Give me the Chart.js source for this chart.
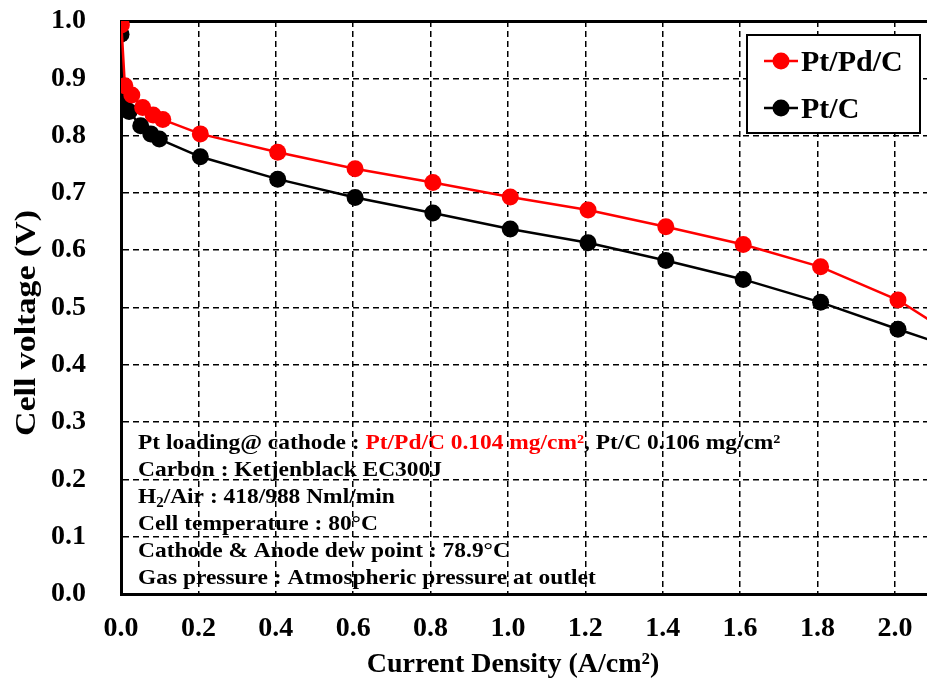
<!DOCTYPE html>
<html>
<head>
<meta charset="utf-8">
<script src="https://cdn.jsdelivr.net/npm/chart.js@4.4.0/dist/chart.umd.min.js"></script>
<style>
  html, body { margin: 0; padding: 0; background: #fff; overflow: hidden; }
  canvas { display: block; }
</style>
</head>
<body>
<canvas id="chart" width="927" height="683"></canvas>
<script>
// values
const ptPdC_x = [0.001, 0.010, 0.028, 0.056, 0.083, 0.108, 0.205, 0.405, 0.605, 0.806, 1.006, 1.207, 1.408, 1.608, 1.808, 2.008, 2.208];
const ptPdC_v = [0.993, 0.887, 0.871, 0.849, 0.836, 0.828, 0.803, 0.771, 0.742, 0.718, 0.693, 0.670, 0.641, 0.610, 0.571, 0.513, 0.427];
const ptC_x = [0.000, 0.008, 0.021, 0.051, 0.077, 0.099, 0.205, 0.405, 0.605, 0.806, 1.006, 1.207, 1.408, 1.608, 1.808, 2.008, 2.208];
const ptC_v = [0.977, 0.861, 0.842, 0.817, 0.803, 0.794, 0.763, 0.724, 0.692, 0.665, 0.637, 0.613, 0.582, 0.549, 0.509, 0.462, 0.417];

const seriesNames = ['Pt/Pd/C', 'Pt/C'];
const seriesColors = ['#ff0000', '#000000'];

const xTitle = 'Current Density (A/cm\u00b2)';
const yTitle = 'Cell voltage (V)';

// test conditions box, each line is a list of [text, color, sub]
const infoLines = [
  [['Pt loading@ cathode : ', '#000'], ['Pt/Pd/C 0.104 mg/cm\u00b2', '#ff0000'], [', Pt/C 0.106 mg/cm\u00b2', '#000']],
  [['Carbon : Ketjenblack EC300J', '#000']],
  [['H', '#000'], ['2', '#000', true], ['/Air : 418/988 Nml/min', '#000']],
  [['Cell temperature : 80\u00b0C', '#000']],
  [['Cathode & Anode dew point : 78.9\u00b0C', '#000']],
  [['Gas pressure : Atmospheric pressure at outlet', '#000']]
];

const serif = '"Liberation Serif", "Times New Roman", serif';

function toPoints(xs, ys) {
  return xs.map((x, i) => ({ x: x, y: ys[i] }));
}

const infoPlugin = {
  id: 'info',
  beforeDraw(chart) {
    const ctx = chart.ctx;
    ctx.save();
    ctx.fillStyle = '#fff';
    ctx.fillRect(0, 0, chart.width, chart.height);
    ctx.textBaseline = 'alphabetic';
    // text in the figure is a bit wider than the serif we have
    ctx.translate(138, 0);
    ctx.scale(1.065, 1);
    let y = 449;
    infoLines.forEach((line) => {
      let x = 0;
      line.forEach((seg) => {
        ctx.fillStyle = seg[1];
        if (seg[2]) {
          ctx.font = 'bold 14px ' + serif;
          ctx.fillText(seg[0], x, y + 4);
        } else {
          ctx.font = 'bold 22px ' + serif;
          ctx.fillText(seg[0], x, y);
        }
        x += ctx.measureText(seg[0]).width;
      });
      y += 27;
    });
    ctx.restore();
  },
  afterDatasetsDraw(chart) {
    // legend box top right
    const ctx = chart.ctx;
    ctx.save();
    ctx.fillStyle = '#fff';
    ctx.strokeStyle = '#000';
    ctx.lineWidth = 2;
    ctx.fillRect(747, 35, 173, 98);
    ctx.strokeRect(747, 35, 173, 98);
    ctx.font = 'bold 30px ' + serif;
    ctx.textBaseline = 'alphabetic';
    chart.data.datasets.forEach((ds, i) => {
      const cy = 61 + i * 47;
      ctx.strokeStyle = ds.borderColor;
      ctx.lineWidth = 2.5;
      ctx.beginPath();
      ctx.moveTo(764, cy);
      ctx.lineTo(798, cy);
      ctx.stroke();
      ctx.fillStyle = ds.borderColor;
      ctx.beginPath();
      ctx.arc(781, cy, 8.5, 0, Math.PI * 2);
      ctx.fill();
      ctx.fillStyle = '#000';
      ctx.fillText(ds.label, 801, cy + 10);
    });
    ctx.restore();
  },
  afterDraw(chart) {
    // axis titles, placed where the figure has them
    const ctx = chart.ctx;
    ctx.save();
    ctx.fillStyle = '#000';
    ctx.textAlign = 'center';
    ctx.textBaseline = 'middle';
    ctx.font = 'bold 28px ' + serif;
    ctx.fillText(xTitle, 513, 665);
    ctx.translate(27, 323);
    ctx.rotate(-Math.PI / 2);
    ctx.font = 'bold 30px ' + serif;
    const w = ctx.measureText(yTitle).width;
    ctx.scale(226 / w, 1);
    ctx.fillText(yTitle, 0, 0);
    ctx.restore();
  }
};

function isTop(c) {
  return c.tick && Math.abs(c.tick.value - 1) < 1e-6;
}

const ctx = document.getElementById('chart');
const chart = new Chart(ctx, {
  type: 'line',
  data: {
    datasets: [
      {
        label: seriesNames[0],
        data: toPoints(ptPdC_x, ptPdC_v),
        borderColor: seriesColors[0],
        backgroundColor: seriesColors[0],
        borderWidth: 2.5,
        pointRadius: 8.5,
        pointBorderWidth: 0,
        tension: 0
      },
      {
        label: seriesNames[1],
        data: toPoints(ptC_x, ptC_v),
        borderColor: seriesColors[1],
        backgroundColor: seriesColors[1],
        borderWidth: 2.5,
        pointRadius: 8.5,
        pointBorderWidth: 0,
        tension: 0
      }
    ]
  },
  options: {
    responsive: false,
    animation: false,
    devicePixelRatio: 1,
    layout: { autoPadding: false, padding: { top: 21, right: 0, left: 0, bottom: 0 } },
    plugins: {
      legend: { display: false },
      tooltip: { enabled: false }
    },
    scales: {
      x: {
        type: 'linear',
        min: 0,
        max: 2.083,
        afterFit: (scale) => {
          scale.height = 89;
          scale.paddingLeft = 0;
          scale.paddingRight = 0;
        },
        ticks: {
          stepSize: 0.2,
          includeBounds: false,
          padding: 18,
          color: '#000',
          font: { family: serif, size: 28, weight: 'bold' },
          callback: (v) => v.toFixed(1)
        },
        grid: {
          color: '#000',
          lineWidth: 1.5,
          drawTicks: false
        },
        border: { display: true, color: '#000', width: 3, dash: [6, 4] },
        title: { display: false, text: xTitle }
      },
      y: {
        min: 0,
        max: 1,
        afterFit: (scale) => {
          scale.width = 121;
          scale.paddingTop = 0;
          scale.paddingBottom = 0;
        },
        ticks: {
          stepSize: 0.1,
          padding: 35,
          color: '#000',
          font: { family: serif, size: 28, weight: 'bold' },
          callback: (v) => v.toFixed(1)
        },
        grid: {
          color: '#000',
          lineWidth: (c) => (isTop(c) ? 3 : 1.5),
          drawTicks: false
        },
        border: { display: true, color: '#000', width: 3, dash: (c) => (isTop(c) ? [] : [6, 4]) },
        title: { display: false, text: yTitle }
      }
    }
  },
  plugins: [infoPlugin]
});
</script>
</body>
</html>
